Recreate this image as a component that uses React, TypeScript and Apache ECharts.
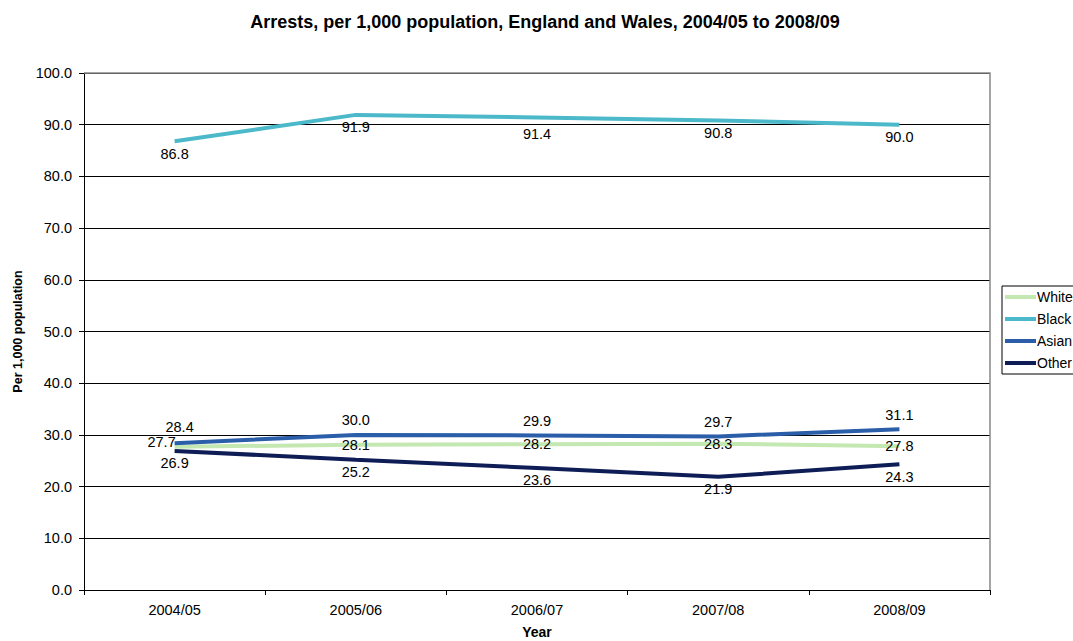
import React, { useEffect, useRef } from "react";
import * as echarts from "echarts";

const categories = ["2004/05", "2005/06", "2006/07", "2007/08", "2008/09"];
const whiteValues = [27.7, 28.1, 28.2, 28.3, 27.8];
const blackValues = [86.8, 91.9, 91.4, 90.8, 90.0];
const asianValues = [28.4, 30.0, 29.9, 29.7, 31.1];
const otherValues = [26.9, 25.2, 23.6, 21.9, 24.3];

const FONT = "Liberation Sans, Arial, sans-serif";

export default function App() {
  const ref = useRef<HTMLDivElement>(null);
  useEffect(() => {
    const chart = echarts.init(ref.current!, null, { renderer: "svg" });
    const lbl = (position: any, extra: any = {}) => ({
      show: true,
      position,
      formatter: (p: any) => Number(p.value).toFixed(1),
      color: "#000",
      fontSize: 14.5,
      fontFamily: FONT,
      ...extra,
    });
    const mk = (name: string, data: any[], color: string, label: any, z: number) => ({
      name,
      type: "line",
      data,
      symbol: "circle",
      symbolSize: 0,
      showSymbol: true,
      z,
      lineStyle: { color, width: 4 },
      itemStyle: { color },
      emphasis: { disabled: true },
      label,
    });
    chart.setOption({
      animation: false,
      backgroundColor: "#fff",
      textStyle: { fontFamily: FONT },
      title: {
        text: "Arrests, per 1,000 population, England and Wales, 2004/05 to 2008/09",
        left: 540,
        textAlign: "center",
        top: 8,
        textStyle: { fontSize: 18, fontWeight: "bold", color: "#000", fontFamily: FONT },
      },
      legend: {
        orient: "vertical",
        left: 1002,
        top: 286,
        itemWidth: 31,
        itemHeight: 4,
        itemGap: 8,
        padding: [4, 4, 4, 3],
        borderColor: "#000",
        borderWidth: 1,
        icon: "rect",
        textStyle: { fontSize: 14, color: "#000", fontFamily: FONT, padding: [0, 0, 0, -4] },
        data: ["White", "Black", "Asian", "Other"],
      },
      grid: {
        left: 84,
        right: 83,
        top: 73,
        bottom: 51,
        containLabel: false,
        outerBoundsMode: "none",
      },
      xAxis: {
        type: "category",
        data: categories,
        boundaryGap: true,
        name: "Year",
        nameLocation: "middle",
        nameGap: 35,
        nameTextStyle: { fontSize: 14, fontWeight: "bold", color: "#000", fontFamily: FONT },
        axisLine: { lineStyle: { color: "#000", width: 1 } },
        axisTick: { show: true, length: 5, inside: false, lineStyle: { color: "#000" } },
        axisLabel: { fontSize: 14.5, color: "#000", margin: 12, fontFamily: FONT },
      },
      yAxis: {
        type: "value",
        min: 0,
        max: 100,
        interval: 10,
        name: "Per 1,000 population",
        nameLocation: "middle",
        nameGap: 60,
        nameTextStyle: { fontSize: 12.5, fontWeight: "bold", color: "#000", fontFamily: FONT },
        axisLine: { show: true, lineStyle: { color: "#000", width: 1 } },
        axisTick: { show: true, length: 5, lineStyle: { color: "#000" } },
        axisLabel: {
          fontSize: 14.5,
          color: "#000",
          margin: 12,
          fontFamily: FONT,
          formatter: (v: number) => v.toFixed(1),
        },
        splitLine: { show: true, lineStyle: { color: "#000", width: 1 } },
      },
      graphic: [
        {
          type: "polyline",
          shape: { points: [[84, 73], [990, 73], [990, 590]] },
          style: { stroke: "#888", lineWidth: 1.5, fill: "none" },
          z: 100,
        },
      ],
      series: [
        mk(
          "White",
          whiteValues.map((v, i) =>
            i === 0 ? { value: v, label: { position: "inside", offset: [-13, -5] } } : v
          ),
          "#c4e8b2",
          lbl("inside"),
          3
        ),
        mk(
          "Black",
          blackValues.map((v, i) =>
            i === 2 ? { value: v, label: { offset: [0, 4] } } : v
          ),
          "#4bb9c9",
          lbl("bottom", { distance: 5 }),
          4
        ),
        mk(
          "Asian",
          asianValues.map((v, i) =>
            i === 0 ? { value: v, label: { offset: [5, -2] } } : v
          ),
          "#2a5ea8",
          lbl("top", { distance: 7 }),
          5
        ),
        mk("Other", otherValues, "#0e1d55", lbl("bottom", { distance: 5 }), 6),
      ],
    });
    return () => chart.dispose();
  }, []);
  return (
    <div
      ref={ref}
      style={{ position: "fixed", left: 0, top: 0, width: 1073, height: 641 }}
    />
  );
}
